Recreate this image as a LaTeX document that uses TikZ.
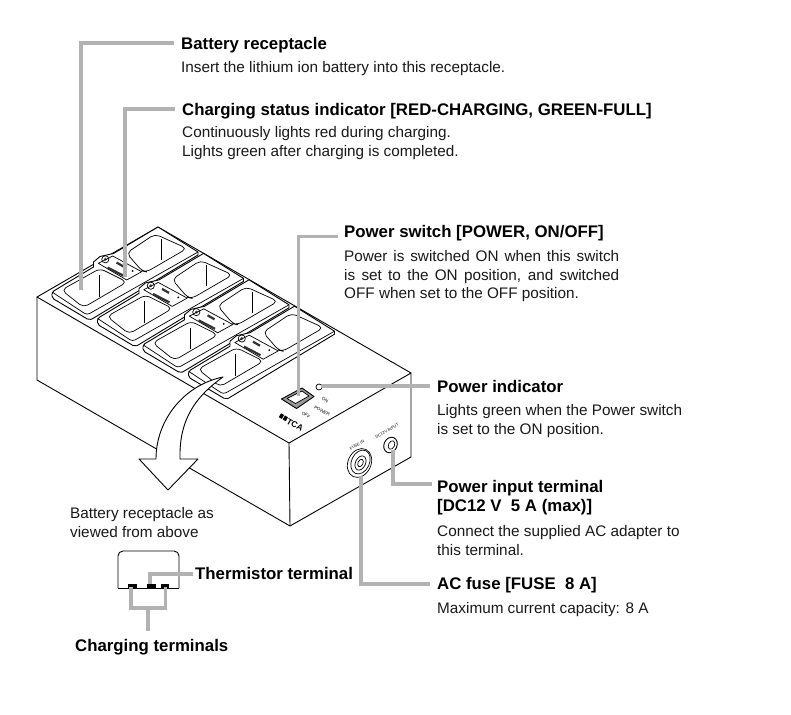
\documentclass[tikz,border=0pt]{standalone}
\usepackage{fontspec}
\setmainfont{Liberation Sans}
\definecolor{leadgray}{HTML}{B2B2B2}
\tikzset{
  leader/.style={draw=leadgray,line width=3.8pt,line join=miter},
  ink/.style={draw=black,line width=0.9pt,line join=round},
  thin ink/.style={draw=black,line width=0.7pt,line join=round},
  head/.style={font=\fontsize{16.8}{19}\selectfont\bfseries,anchor=base west,inner sep=0pt,text=black},
  body/.style={font=\fontsize{15.3}{18.6}\selectfont,anchor=north west,inner sep=0pt,align=left,text=black!90},
  tiny/.style={font=\fontsize{4.5}{4.5}\selectfont,inner sep=0pt,rotate=-30},
  tinyup/.style={font=\fontsize{4}{4}\selectfont,inner sep=0pt,rotate=30}
}
\newcommand{\just}[1]{\makebox[275pt][s]{#1}}
\begin{document}
\begin{tikzpicture}[x=1pt,y=-1pt]
\useasboundingbox (0,0) rectangle (791,714);
\fill[white] (0,0) rectangle (791,714);
% body
\draw[ink,fill=white] (37,297) -- (158,227) -- (411,373) -- (289,443) -- cycle;
\draw[ink] (37,297) -- (37,380) -- (290,526) -- (411,457) -- (411,373);
\draw[ink] (289,443) -- (290,526);
% trays
\foreach \i in {0,1,2,3}{
\begin{scope}[shift={(45.5*\i,26.4*\i)}]
  \draw[ink,fill=white] (52,292) -- (93.5,267) -- (93.5,262) -- (100,256.5) -- (113.5,253.5) -- (158,227) -- (198,252) -- (198,255) -- (92,319) [rounded corners=2pt] -- (89,320) -- (52,298) -- cycle;
  \draw[thin ink,rounded corners=3pt] (52,292) -- (87,315) -- (198,252);
  \draw[thin ink,rounded corners=5pt] (61.5,290) -- (100,268.5) -- (127,282) -- (83.5,307.5) -- cycle;
  \draw[thin ink,rounded corners=5pt] (126.5,253) -- (155,234) -- (187,248.5) -- (146.5,272) -- (142,271) -- cycle;
  \draw[thin ink] (99.3,275) -- (99.3,296.5);
  \draw[thin ink] (161.3,239) -- (161.3,260);
  \draw[thin ink] (105.3,259.3) circle (3.6);
  \fill[black!70] (105.3,259.3) circle (1.6);
  \draw[thin ink] (98.3,263.3) -- (112.7,256) -- (141.7,271.7) -- (126.7,280) -- cycle;
  \fill[black!80] (117,261.5) -- (124,265.5) -- (123,267.5) -- (116,263.5) -- cycle;
  \fill[black!80] (108,266.5) -- (124.5,275) -- (123.5,277) -- (107,268.5) -- cycle;
  \fill (132.7,271) circle (1);
\end{scope}}
% switch
\draw[ink,fill=black!40] (281.5,399) -- (302,388) -- (314,396.5) -- (296.5,408.5) -- cycle;
\draw[thin ink,fill=white] (287,398.5) -- (302,391) -- (309,396) -- (295.5,403.5) -- cycle;
\draw[thin ink] (319,387) circle (3);
\node[tiny] (on) at (325,400) {ON};
\node[tiny] (pw) at (322,411) {POWER};
\node[tiny] (off) at (306,415) {OFF};
\fill[rotate around={-30:(283.5,417)}] (279.5,415) rectangle (283,419.5) (284,415) rectangle (287.5,419.5);
\node[font=\fontsize{8.5}{8.5}\selectfont\bfseries,rotate=-30,inner sep=0pt] (tca) at (295,425) {TCA};
% fuse and jack
\draw[thin ink,rotate around={-25:(359.5,463)}] (359.5,463) ellipse (11.5 and 15);
\draw[thin ink,rotate around={-25:(360.5,462)}] (360.5,462) ellipse (9 and 12.5);
\draw[thin ink,rotate around={-25:(360.5,463)}] (360.5,463) ellipse (5 and 7.5);
\draw[thin ink,rotate around={-25:(360.5,463)}] (360.5,463) ellipse (2.5 and 4);
\node[tinyup] (fuselab) at (357,445) {FUSE IN};
\draw[ink,rotate around={-25:(390.5,445)}] (390.5,445) ellipse (6.5 and 8);
\draw[thin ink,rotate around={-25:(391.5,445)}] (391.5,445) ellipse (3 and 4.5);
\node[tinyup] (inlab) at (387,431) {DC12V INPUT};
% big arrow
\draw[ink,fill=white] (223,377) .. controls (184,385) and (156,420) .. (156,459) -- (139,459) -- (168,490) -- (198,459) -- (180,459) .. controls (179,420) and (195,397) .. (223,377) -- cycle;
% receptacle
\draw[ink,rounded corners=5pt] (118,588) |- (179,551) -- (179,588);
\draw[ink] (118,588) -- (179,588);
\fill (128,584) rectangle (137,589);
\fill (147,584) rectangle (156,589);
\fill (161,584) rectangle (169,589);
% text
\node[head] (a) at (181,49.5) {Battery receptacle};
\node[body] (a2) at (181,61) {Insert the lithium ion battery into this receptacle.};
\node[head] (b) at (182,115.5) {Charging status indicator [RED-CHARGING, GREEN-FULL]};
\node[body] (b2) at (182,126.5) {Continuously lights red during charging.\\Lights green after charging is completed.};
\node[head] (c) at (344,237.5) {Power switch [POWER, ON/OFF]};
\node[body] (c2) at (344,250.5) {\just{Power is switched ON when this switch}\\\just{is set to the ON position, and switched}\\OFF when set to the OFF position.};
\node[head] (d) at (437,392.5) {Power indicator};
\node[body] (d2) at (437,404.5) {Lights green when the Power switch\\is set to the ON position.};
\node[head,align=left,anchor=north west] (e) at (437,480) {Power input terminal\\{}[DC12 V\ \ 5 A (max)]};
\node[body] (e2) at (437,525.5) {Connect the supplied AC adapter to\\this terminal.};
\node[head] (f) at (437,589.5) {AC fuse [FUSE\ \ 8 A]};
\node[body] (f2) at (437,602.5) {Maximum current capacity: 8 A};
\node[body] (g) at (70,507.5) {Battery receptacle as\\viewed from above};
\node[head] (h) at (195,579.5) {Thermistor terminal};
\node[head] (i) at (75,651.5) {Charging terminals};
% leaders
\coordinate (la) at (81,290); \coordinate (lb) at (125,277); \coordinate (lc) at (298.5,396);
\coordinate (ld) at (321,386); \coordinate (le) at (393,450); \coordinate (lf) at (361,476);
\draw[leader] (174,43) -| (la);
\draw[leader] (175,109) -| (lb);
\draw[leader] (338,236.5) -| (lc);
\draw[leader] (430,386) -- (ld);
\draw[leader] (432,484) -| (le);
\draw[leader] (430,584) -| (lf);
\draw[leader] (193,574) -| (150,584);
\draw[leader] (131,587) |- (165.5,608) -- (165.5,587);
\draw[leader] (148,608) -- (148,631);
\end{tikzpicture}
\end{document}
